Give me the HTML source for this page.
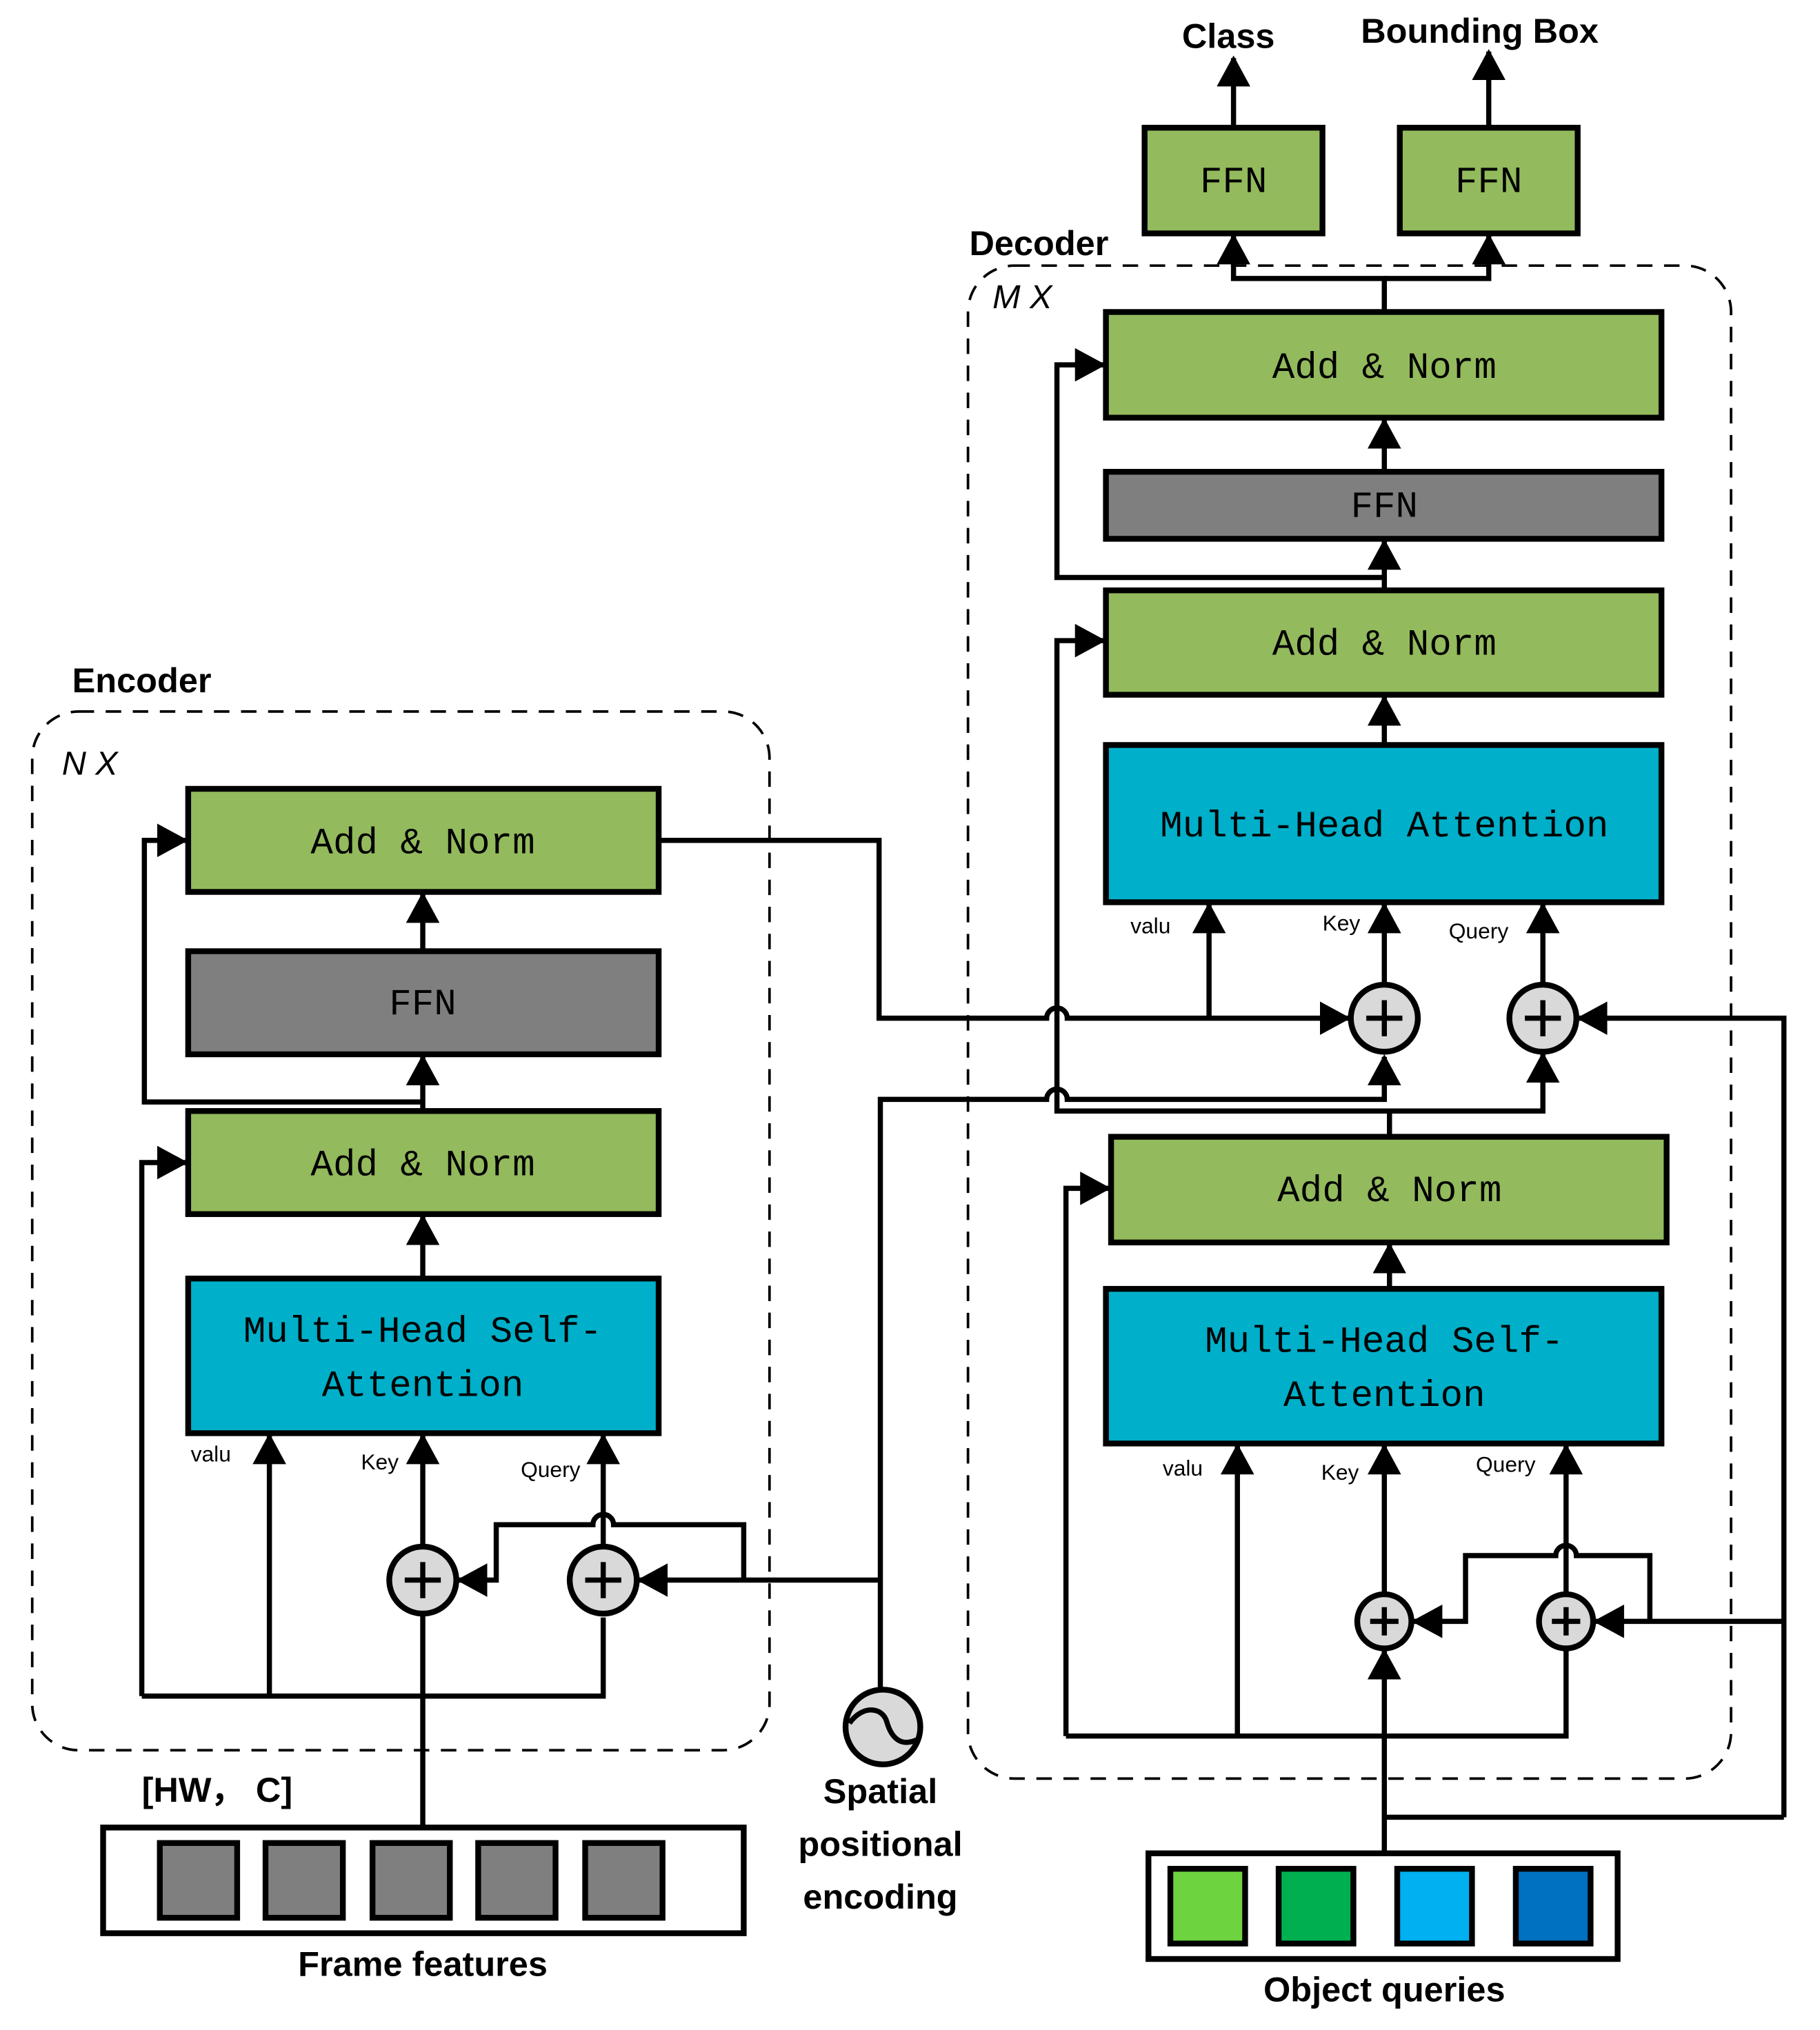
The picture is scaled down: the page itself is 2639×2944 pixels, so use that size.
<!DOCTYPE html>
<html><head><meta charset="utf-8"><style>html,body{margin:0;padding:0;background:#fff}svg{display:block}</style></head>
<body>
<svg width="2639" height="2944" viewBox="0 0 1412 1575" xmlns="http://www.w3.org/2000/svg">
<defs>
<marker id="a" markerUnits="userSpaceOnUse" markerWidth="24" markerHeight="26" refX="22" refY="13" orient="auto">
<path d="M0,0 L24,13 L0,26 z" fill="#000"/></marker>
</defs>
<style>
.b{stroke:#000;stroke-width:4.5}
.l{fill:none;stroke:#000;stroke-width:4}
.d{fill:none;stroke:#000;stroke-width:2;stroke-dasharray:12,9}
.t{font-family:"Liberation Mono",monospace;font-size:29px;text-anchor:middle;fill:#000}
.s{font-family:"Liberation Sans",sans-serif;font-weight:bold;font-size:27px;fill:#000}
.k{font-family:"Liberation Sans",sans-serif;font-size:17px;fill:#000}
.i{font-family:"Liberation Sans",sans-serif;font-style:italic;font-size:26px;fill:#000}
</style>
<rect width="1412" height="1575" fill="#fff"/>

<!-- ENCODER -->
<rect x="25" y="552" width="572" height="806" rx="36" class="d"/>
<text x="56" y="537" class="s">Encoder</text>
<text x="48" y="601" class="i">N X</text>

<rect x="146" y="612" width="365" height="80" fill="#93ba5c" class="b"/>
<text x="328" y="662" class="t">Add &amp; Norm</text>
<rect x="146" y="738" width="365" height="80" fill="#7f7f7f" class="b"/>
<text x="328" y="787" class="t">FFN</text>
<rect x="146" y="862" width="365" height="80" fill="#93ba5c" class="b"/>
<text x="328" y="912" class="t">Add &amp; Norm</text>
<rect x="146" y="992" width="365" height="120" fill="#00afc9" class="b"/>
<text x="328" y="1041" class="t">Multi-Head Self-</text>
<text x="328" y="1083" class="t">Attention</text>

<path d="M328,738 L328,694" class="l" marker-end="url(#a)"/>
<path d="M328,862 L328,820" class="l" marker-end="url(#a)"/>
<path d="M328,992 L328,944" class="l" marker-end="url(#a)"/>
<path d="M328,855 L112,855 L112,652 L144,652" class="l" marker-end="url(#a)"/>
<path d="M110,1316 L110,902 L144,902" class="l" marker-end="url(#a)"/>
<path d="M110,1316 L468,1316 L468,1255" class="l"/>
<path d="M209,1316 L209,1114" class="l" marker-end="url(#a)"/>
<path d="M328,1418 L328,1114" class="l" marker-end="url(#a)"/>
<path d="M468,1199 L468,1114" class="l" marker-end="url(#a)"/>
<circle cx="328" cy="1226" r="26" fill="#d9d9d9" class="b"/>
<path d="M314,1226 H342 M328,1212 V1240" class="l"/>
<circle cx="468" cy="1226" r="26" fill="#d9d9d9" class="b"/>
<path d="M454,1226 H482 M468,1212 V1240" class="l"/>
<path d="M577,1226 L577,1183 L476,1183 A8,8 0 0 0 460,1183 L385,1183 L385,1226 L356,1226" class="l" marker-end="url(#a)"/>
<path d="M683,1226 L496,1226" class="l" marker-end="url(#a)"/>
<text x="148" y="1134" class="k">valu</text>
<text x="280" y="1140" class="k">Key</text>
<text x="404" y="1146" class="k">Query</text>

<!-- Frame features -->
<rect x="80" y="1418" width="497" height="82" fill="#fff" class="b"/>
<g fill="#7f7f7f" class="b">
<rect x="124" y="1430" width="60" height="58"/><rect x="206" y="1430" width="60" height="58"/>
<rect x="289" y="1430" width="60" height="58"/><rect x="371" y="1430" width="60" height="58"/>
<rect x="454" y="1430" width="60" height="58"/></g>
<text x="110" y="1398" class="s" style="font-weight:bold">[HW， C]</text>
<text x="328" y="1533" class="s" text-anchor="middle">Frame features</text>

<!-- Positional encoding -->
<path d="M683,1312 L683,853 L812,853 A8,8 0 0 1 828,853 L1074,853 L1074,820" class="l" marker-end="url(#a)"/>
<circle cx="685" cy="1340" r="29" fill="#d9d9d9" class="b"/>
<path d="M659,1337 C670,1322 685,1325 688,1336 C692,1350 700,1355 711,1350" class="l"/>
<text x="683" y="1399" class="s" text-anchor="middle">Spatial</text>
<text x="683" y="1440" class="s" text-anchor="middle">positional</text>
<text x="683" y="1481" class="s" text-anchor="middle">encoding</text>

<!-- Encoder output to decoder -->
<path d="M511,652 L682,652 L682,790 L812,790 A8,8 0 0 1 828,790 L1046,790" class="l" marker-end="url(#a)"/>
<path d="M938,790 L938,702" class="l" marker-end="url(#a)"/>

<!-- DECODER -->
<rect x="751" y="206" width="592" height="1174" rx="36" class="d"/>
<text x="752" y="198" class="s">Decoder</text>
<text x="770" y="239" class="i">M X</text>

<rect x="888" y="99" width="138" height="82" fill="#93ba5c" class="b"/>
<text x="957" y="149" class="t">FFN</text>
<rect x="1086" y="99" width="138" height="82" fill="#93ba5c" class="b"/>
<text x="1155" y="149" class="t">FFN</text>
<path d="M957,99 L957,45" class="l" marker-end="url(#a)"/>
<path d="M1155,99 L1155,40" class="l" marker-end="url(#a)"/>
<text x="953" y="37" class="s" text-anchor="middle">Class</text>
<text x="1148" y="33" class="s" text-anchor="middle">Bounding Box</text>
<path d="M1074,242 L1074,216 L957,216 L957,183" class="l" marker-end="url(#a)"/>
<path d="M1074,216 L1155,216 L1155,183" class="l" marker-end="url(#a)"/>

<rect x="858" y="242" width="431" height="82" fill="#93ba5c" class="b"/>
<text x="1074" y="293" class="t">Add &amp; Norm</text>
<rect x="858" y="366" width="431" height="52" fill="#7f7f7f" class="b"/>
<text x="1074" y="401" class="t">FFN</text>
<rect x="858" y="458" width="431" height="81" fill="#93ba5c" class="b"/>
<text x="1074" y="508" class="t">Add &amp; Norm</text>
<rect x="858" y="578" width="431" height="122" fill="#00afc9" class="b"/>
<text x="1074" y="649" class="t">Multi-Head Attention</text>
<path d="M1074,366 L1074,326" class="l" marker-end="url(#a)"/>
<path d="M1074,458 L1074,420" class="l" marker-end="url(#a)"/>
<path d="M1074,578 L1074,541" class="l" marker-end="url(#a)"/>
<path d="M1074,448 L820,448 L820,283 L856,283" class="l" marker-end="url(#a)"/>
<text x="877" y="724" class="k">valu</text>
<text x="1026" y="722" class="k">Key</text>
<text x="1124" y="728" class="k">Query</text>

<path d="M1074,762 L1074,702" class="l" marker-end="url(#a)"/>
<path d="M1197,762 L1197,702" class="l" marker-end="url(#a)"/>
<circle cx="1074" cy="790" r="26" fill="#d9d9d9" class="b"/>
<path d="M1060,790 H1088 M1074,776 V804" class="l"/>
<circle cx="1197" cy="790" r="26" fill="#d9d9d9" class="b"/>
<path d="M1183,790 H1211 M1197,776 V804" class="l"/>

<path d="M1078,882 L1078,862 L820,862 L820,497 L856,497" class="l" marker-end="url(#a)"/>
<path d="M1078,862 L1197,862 L1197,818" class="l" marker-end="url(#a)"/>
<path d="M1384,1410 L1384,790 L1225,790" class="l" marker-end="url(#a)"/>
<path d="M1074,1410 L1384,1410" class="l"/>

<rect x="862" y="882" width="431" height="82" fill="#93ba5c" class="b"/>
<text x="1078" y="932" class="t">Add &amp; Norm</text>
<rect x="858" y="1000" width="431" height="120" fill="#00afc9" class="b"/>
<text x="1074" y="1049" class="t">Multi-Head Self-</text>
<text x="1074" y="1091" class="t">Attention</text>
<path d="M1078,1000 L1078,966" class="l" marker-end="url(#a)"/>
<text x="902" y="1145" class="k">valu</text>
<text x="1025" y="1148" class="k">Key</text>
<text x="1145" y="1142" class="k">Query</text>

<path d="M827,1347 L827,922 L860,922" class="l" marker-end="url(#a)"/>
<path d="M827,1347 L1215,1347 L1215,1279" class="l"/>
<path d="M960,1347 L960,1122" class="l" marker-end="url(#a)"/>
<path d="M1074,1237 L1074,1122" class="l" marker-end="url(#a)"/>
<path d="M1215,1237 L1215,1122" class="l" marker-end="url(#a)"/>
<path d="M1074,1438 L1074,1281" class="l" marker-end="url(#a)"/>
<circle cx="1074" cy="1258" r="21" fill="#d9d9d9" class="b"/>
<path d="M1063,1258 H1085 M1074,1247 V1269" class="l"/>
<circle cx="1215" cy="1258" r="21" fill="#d9d9d9" class="b"/>
<path d="M1204,1258 H1226 M1215,1247 V1269" class="l"/>
<path d="M1280,1258 L1280,1207 L1223,1207 A8,8 0 0 0 1207,1207 L1137,1207 L1137,1258 L1097,1258" class="l" marker-end="url(#a)"/>
<path d="M1384,1258 L1238,1258" class="l" marker-end="url(#a)"/>

<!-- Object queries -->
<rect x="891" y="1438" width="364" height="82" fill="#fff" class="b"/>
<rect x="908" y="1450" width="58" height="58" fill="#6dd43f" class="b"/>
<rect x="992" y="1450" width="58" height="58" fill="#00b050" class="b"/>
<rect x="1084" y="1450" width="58" height="58" fill="#00b0f0" class="b"/>
<rect x="1176" y="1450" width="58" height="58" fill="#0070c0" class="b"/>
<text x="1074" y="1553" class="s" text-anchor="middle">Object queries</text>
</svg>
</body></html>
